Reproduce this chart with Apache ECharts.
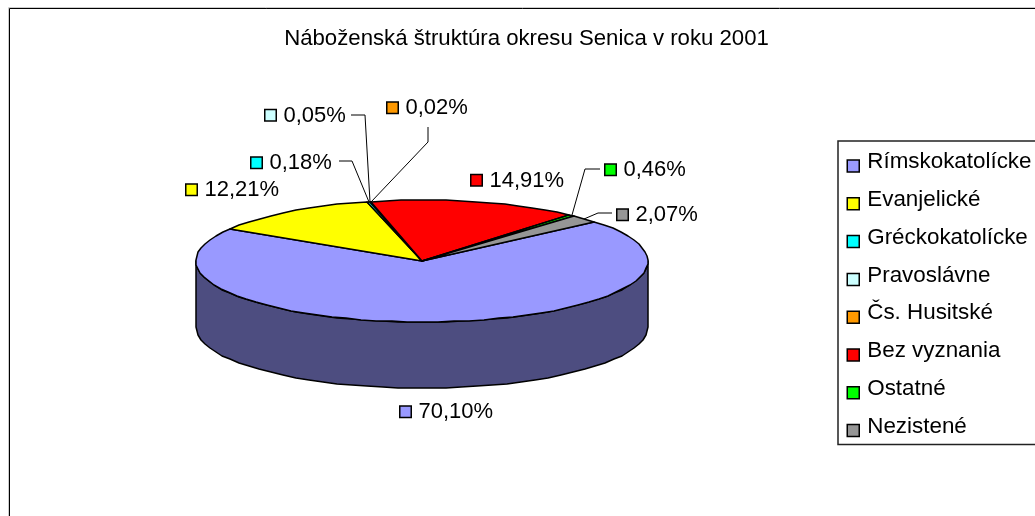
<!DOCTYPE html>
<html>
<head>
<meta charset="utf-8">
<style>
  html, body { margin: 0; padding: 0; background: #fff; }
  #main { width: 1035px; height: 516px; }
</style>
<script src="https://cdn.jsdelivr.net/npm/echarts@6/dist/echarts.min.js"></script>
</head>
<body>
<div id="main"></div>
<script>
  var chartTitle = 'Náboženská štruktúra okresu Senica v roku 2001';
  var categories = ['Rímskokatolícke', 'Evanjelické', 'Gréckokatolícke', 'Pravoslávne', 'Čs. Husitské', 'Bez vyznania', 'Ostatné', 'Nezistené'];
  var values = [70.10, 12.21, 0.18, 0.05, 0.02, 14.91, 0.46, 2.07];
  var colors = ['#9999FF', '#FFFF00', '#00FFFF', '#CCFFFF', '#FF9900', '#FF0000', '#00FF00', '#969696'];
  var sideColors = ['#4D4D80', '#808000', '#008080', '#668080', '#804D00', '#800000', '#008000', '#4B4B4B'];

  // pie geometry
  var cx = 422, cy = 261, rx = 226, ry = 61, depth = 66;
  var startAngle = 49.7;   // clockwise from 12 o'clock
  var arcStep = 4;         // the original rim is a rough polygon

  // where each label sits, and its leader line (label key left/centre y)
  var labelPos = [[399, 412], [185, 190], [250, 163], [264, 115.5], [386, 108], [470, 180.5], [604, 170], [616, 215]];
  var leaders = [
    null,
    null,
    [[339, 161], [352, 161]],
    [[351, 115], [365, 115]],
    [[428, 127], [428, 142]],
    null,
    [[600, 169], [585, 169]],
    [[612, 213], [598, 213]]
  ];

  var total = values.reduce(function (a, b) { return a + b; }, 0);

  function pt(deg, h) {
    var r = deg * Math.PI / 180;
    return [Math.round(cx + rx * Math.sin(r)), Math.round(cy - ry * Math.cos(r) + (h || 0))];
  }
  function arc(a0, a1, h) {
    var pts = [];
    var n = Math.max(1, Math.ceil(Math.abs(a1 - a0) / arcStep));
    for (var i = 0; i <= n; i++) pts.push(pt(a0 + (a1 - a0) * i / n, h));
    return pts;
  }
  function sliceStart(idx) {
    var sum = 0;
    for (var i = 0; i < idx; i++) sum += values[i];
    return startAngle + sum / total * 360;
  }

  function renderSlice(idx) {
    return function (params, api) {
      var a0 = sliceStart(idx);
      var a1 = a0 + api.value(0) / total * 360;
      var children = [];
      var edge = { stroke: '#000', lineWidth: 1.5, lineJoin: 'round' };

      // side wall, front half only
      var s0 = Math.max(a0, 90), s1 = Math.min(a1, 270);
      if (s1 > s0) {
        var wall = arc(s0, s1, 0).concat(arc(s1, s0, depth));
        children.push({ type: 'polygon', shape: { points: wall }, style: Object.assign({ fill: sideColors[idx] }, edge) });
      }
      // top face
      var top = [[cx, cy]].concat(arc(a0, a1, 0));
      children.push({ type: 'polygon', shape: { points: top }, style: Object.assign({ fill: colors[idx] }, edge) });

      // leader line ends on the slice rim
      if (leaders[idx]) {
        var mid = pt((a0 + a1) / 2);
        children.push({ type: 'polyline', shape: { points: leaders[idx].concat([mid]) }, style: { fill: null, stroke: '#000', lineWidth: 1 } });
      }
      // label = key + value text
      var lp = labelPos[idx];
      children.push({ type: 'rect', shape: { x: lp[0] + 0.75, y: lp[1] - 6, width: 11.5, height: 11.5 }, style: { fill: colors[idx], stroke: '#000', lineWidth: 1.5 } });
      children.push({ type: 'text', style: { x: lp[0] + 19.5, y: lp[1], text: api.value(0).toFixed(2).replace('.', ',') + '%', fill: '#000', font: '22px "Liberation Sans"', verticalAlign: 'middle', align: 'left' } });

      return { type: 'group', children: children };
    };
  }

  var series = categories.map(function (name, i) {
    return {
      name: name,
      type: 'custom',
      coordinateSystem: 'none',
      silent: true,
      animation: false,
      itemStyle: { color: colors[i] },
      data: [[values[i]]],
      renderItem: renderSlice(i)
    };
  });

  var myChart = echarts.init(document.getElementById('main'), null, { renderer: 'canvas' });
  myChart.setOption({
    backgroundColor: '#fff',
    animation: false,
    title: {
      text: chartTitle,
      left: 521.5,
      top: 23,
      textAlign: 'center',
      textStyle: { fontFamily: 'Liberation Sans', fontSize: 22.2, fontWeight: 'normal', color: '#000' }
    },
    legend: {
      orient: 'vertical',
      left: 838,
      top: 141,
      padding: [10, 8, 3, 8.5],
      icon: 'rect',
      itemWidth: 12,
      itemHeight: 12,
      itemGap: 11.8,
      borderColor: '#222',
      borderWidth: 1.5,
      backgroundColor: '#fff',
      selectedMode: false,
      data: categories,
      itemStyle: { borderColor: '#000', borderWidth: 1.5 },
      // the original keys sit lower than the text, so the text is pushed to the top of a taller line
      formatter: function (name) { return '{s| }{t|' + name + '}'; },
      textStyle: {
        rich: {
          s: { width: 3, lineHeight: 30, fontSize: 22.4 },
          t: { fontFamily: 'Liberation Sans', fontSize: 22.4, color: '#000', lineHeight: 22, verticalAlign: 'top' }
        }
      }
    },
    graphic: [{
      type: 'rect',
      silent: true,
      z: -2,
      shape: { x: 8.5, y: 7.5, width: 1100, height: 600 },
      style: { fill: null, stroke: '#ccc', lineWidth: 1 }
    }, {
      type: 'rect',
      silent: true,
      z: -1,
      shape: { x: 9.5, y: 8.5, width: 1100, height: 600 },
      style: { fill: null, stroke: '#000', lineWidth: 1 }
    }],
    series: series
  });
</script>
</body>
</html>
